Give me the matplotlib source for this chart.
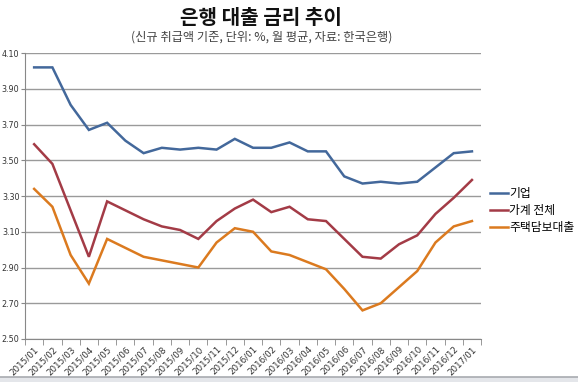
import matplotlib.pyplot as plt
import numpy as np

plt.rcParams['font.family'] = ['Noto Sans CJK KR', 'DejaVu Sans']

months = ['2015/01', '2015/02', '2015/03', '2015/04', '2015/05', '2015/06', '2015/07',
          '2015/08', '2015/09', '2015/10', '2015/11', '2015/12', '2016/01', '2016/02',
          '2016/03', '2016/04', '2016/05', '2016/06', '2016/07', '2016/08', '2016/09',
          '2016/10', '2016/11', '2016/12', '2017/01']

corporate = [4.02, 4.02, 3.81, 3.67, 3.71, 3.61, 3.54, 3.57, 3.56, 3.57, 3.56, 3.62, 3.57,
             3.57, 3.60, 3.55, 3.55, 3.41, 3.37, 3.38, 3.37, 3.38, 3.46, 3.54, 3.55]
household = [3.59, 3.48, 3.22, 2.96, 3.27, 3.22, 3.17, 3.13, 3.11, 3.06, 3.16, 3.23, 3.28,
             3.21, 3.24, 3.17, 3.16, 3.06, 2.96, 2.95, 3.03, 3.08, 3.20, 3.29, 3.39]
mortgage = [3.34, 3.24, 2.97, 2.81, 3.06, 3.01, 2.96, 2.94, 2.92, 2.90, 3.04, 3.12, 3.10,
            2.99, 2.97, 2.93, 2.89, 2.78, 2.66, 2.70, 2.79, 2.88, 3.04, 3.13, 3.16]

labels = ['기업', '가계 전체', '주택담보대출']
colors = ['#43689B', '#A33B46', '#DB7A1F']
yticks = [2.50, 2.70, 2.90, 3.10, 3.30, 3.50, 3.70, 3.90, 4.10]

fig = plt.figure(figsize=(5.78, 3.82), dpi=100)
ax = fig.add_axes([0.0433, 0.1126, 0.789, 0.7484])

x = np.arange(len(months))
for vals, lab, c in zip([corporate, household, mortgage], labels, colors):
    ax.plot(x, vals, color=c, linewidth=1.8, label=lab, solid_joinstyle='miter')

ax.set_xlim(-0.5, len(months) - 0.5)
ax.set_ylim(2.50, 4.10)
ax.set_yticks(yticks)
ax.set_yticklabels([f'{v:.2f}' for v in yticks], fontsize=5.8, color='#333333',
                   family=['Liberation Sans Narrow', 'DejaVu Sans'])
ax.grid(axis='y', color='#9a9a9a', linewidth=1)
ax.set_axisbelow(True)

ax.set_xticks(x)
ax.set_xticklabels(months, rotation=45, ha='right', rotation_mode='anchor',
                   fontsize=6.3, color='#333333', family=['Liberation Sans Narrow', 'DejaVu Sans'])
ax.tick_params(axis='x', which='major', length=0, pad=4)
ax.set_xticks(np.arange(-0.5, len(months), 1), minor=True)
ax.tick_params(axis='x', which='minor', length=4, color='#888888')
ax.tick_params(axis='y', length=3, color='#888888', pad=1)

for s in ['top', 'right']:
    ax.spines[s].set_visible(False)
ax.spines['left'].set_color('#888888')
ax.spines['bottom'].set_color('#888888')

ax.legend(loc='center left', bbox_to_anchor=(1.01, 0.45), frameon=False, fontsize=8.5,
          handlelength=1.5, handletextpad=0.1, labelspacing=0.35, borderaxespad=0)

fig.text(0.452, 0.955, '은행 대출 금리 추이', ha='center', va='center', fontsize=14.5,
         fontweight='bold', color='#111111')
fig.text(0.452, 0.903, '(신규 취급액 기준, 단위: %, 월 평균, 자료: 한국은행)', ha='center',
         va='center', fontsize=8.8, color='#444444')

# grey frame strip along the bottom edge
fig.patches.append(plt.Rectangle((0, 0), 1, 0.012, transform=fig.transFigure,
                                 facecolor='#e4e6ea', edgecolor='none'))
fig.lines.append(plt.Line2D([0, 1], [0.013, 0.013], transform=fig.transFigure,
                            color='#a8abb0', linewidth=1.2))

fig.savefig('out.png', dpi=100)
